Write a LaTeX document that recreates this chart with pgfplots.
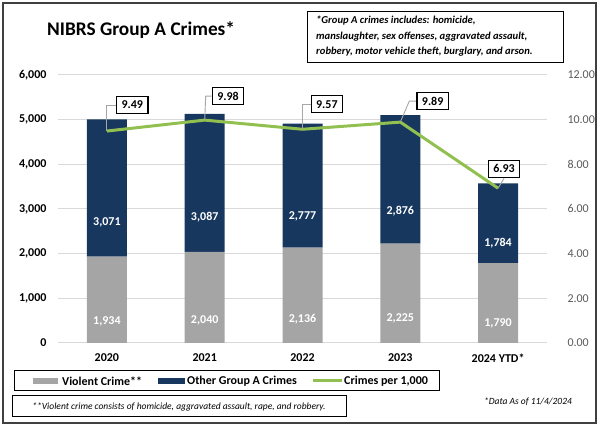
\documentclass[border=0pt]{standalone}
\usepackage{fontspec}
\setmainfont{Carlito}
\usepackage{pgfplots}
\pgfplotsset{compat=1.18}
\definecolor{vgray}{HTML}{A5A5A5}
\definecolor{navy}{HTML}{17375E}
\definecolor{lgreen}{HTML}{92C050}
\definecolor{gridc}{HTML}{D9D9D9}
\definecolor{ticktxt}{HTML}{595959}
\tikzset{
  lbl/.style={draw=black, line width=1.3pt, fill=white, inner xsep=5pt, inner ysep=4.5pt,
     font=\fontsize{12}{12}\selectfont\bfseries},
  ldr/.style={draw=gray!70, line width=0.9pt},
}
\begin{document}
\begin{tikzpicture}[x=1pt,y=1pt]
\useasboundingbox (0,0) rectangle (600,427);
\draw[line width=1.5pt, draw=black!75] (3,4) rectangle (596,424);
\node[anchor=west, inner sep=0pt, font=\fontsize{19.3}{20}\selectfont\bfseries] at (47,397) {NIBRS Group A Crimes*};

\begin{axis}[
  at={(58pt,84pt)}, anchor=south west,
  width=489pt, height=268pt, scale only axis,
  ybar stacked, bar width=40pt,
  xmin=-0.5, xmax=4.5, ymin=0, ymax=6000,
  xtick={0,1,2,3,4},
  xticklabels={2020,2021,2022,2023,2024 YTD*},
  ytick={0,1000,2000,3000,4000,5000,6000},
  ymajorgrids, grid style={gridc, line width=1pt},
  axis line style={draw=none}, major tick style={draw=none},
  /pgf/number format/assume math mode=true,
  /pgf/number format/1000 sep={,},
  xticklabel style={font=\fontsize{12}{12}\selectfont\bfseries, yshift=-7pt},
  yticklabel style={font=\fontsize{12}{12}\selectfont\bfseries, xshift=-8pt},
  visualization depends on=rawy\as\rawy,
  nodes near coords={\pgfmathprintnumber{\rawy}},
  every node near coord/.append style={anchor=center, text=white,
     font=\fontsize{12}{12}\selectfont\bfseries,
     shift={(axis direction cs:0,-\rawy/4)}},
]
\addplot[fill=vgray, draw=none] coordinates {(0,1934) (1,2040) (2,2136) (3,2225) (4,1790)};
\addplot[fill=navy, draw=none] coordinates {(0,3071) (1,3087) (2,2777) (3,2876) (4,1784)};
\end{axis}

\begin{axis}[
  at={(58pt,84pt)}, anchor=south west,
  width=489pt, height=268pt, scale only axis,
  xmin=-0.5, xmax=4.5, ymin=0, ymax=12,
  axis y line*=right, axis x line=none, xtick=\empty,
  ytick={0,2,4,6,8,10,12},
  axis line style={draw=none}, major tick style={draw=none},
  /pgf/number format/assume math mode=true,
  yticklabel style={font=\fontsize{12}{12}\selectfont, text=ticktxt, xshift=17pt,
     /pgf/number format/.cd, fixed, fixed zerofill, precision=2},
  clip=false,
]
\addplot[lgreen, line width=3pt, mark=none, line join=round] coordinates {(0,9.49) (1,9.98) (2,9.57) (3,9.89) (4,6.93)};
\draw[ldr] (axis cs:0,9.49) -- ++(0pt,26pt) -- ++(9pt,0pt) node[lbl, anchor=west] {9.49};
\draw[ldr] (axis cs:1,9.98) -- ++(1pt,24pt) -- ++(6pt,0pt) node[lbl, anchor=west] {9.98};
\draw[ldr] (axis cs:2,9.57) -- ++(0pt,25pt) -- ++(8pt,0pt) node[lbl, anchor=west] {9.57};
\draw[ldr] (axis cs:3,9.89) -- ++(9pt,21pt) -- ++(7pt,0pt) node[lbl, anchor=west] {9.89};
\draw[ldr] (axis cs:4,6.93) -- ++(6pt,10pt) node[lbl, anchor=south] {6.93};
\end{axis}

% note box
\draw[line width=1pt, fill=white] (307,364) rectangle (563,415);
\node[anchor=north west, align=left, inner sep=0pt, font=\fontsize{10.6}{15.5}\selectfont\bfseries\itshape] at (316,411) {*Group A crimes includes: homicide,\\ manslaughter, sex offenses, aggravated assault,\\ robbery, motor vehicle theft, burglary, and arson.};

% legend
\draw[line width=1pt] (14,36) rectangle (439,56);
\fill[vgray] (33,43) rectangle (58,49);
\node[anchor=west, inner sep=0pt, font=\fontsize{12}{12}\selectfont\bfseries] at (62,46) {Violent Crime**};
\fill[navy] (158,43) rectangle (185,49);
\node[anchor=west, inner sep=0pt, font=\fontsize{12}{12}\selectfont\bfseries] at (187,46) {Other Group A Crimes};
\draw[lgreen, line width=3pt] (313,46) -- (342,46);
\node[anchor=west, inner sep=0pt, font=\fontsize{12}{12}\selectfont\bfseries] at (344,46) {Crimes per 1,000};

% footnotes
\draw[line width=1pt] (12,10) rectangle (346,31);
\node[inner sep=0pt, font=\fontsize{9.5}{10}\selectfont\itshape] at (179,20.5) {**Violent crime consists of homicide, aggravated assault, rape, and robbery.};
\node[inner sep=0pt, font=\fontsize{9.5}{10}\selectfont\itshape] at (528,25) {*Data As of 11/4/2024};
\end{tikzpicture}
\end{document}
